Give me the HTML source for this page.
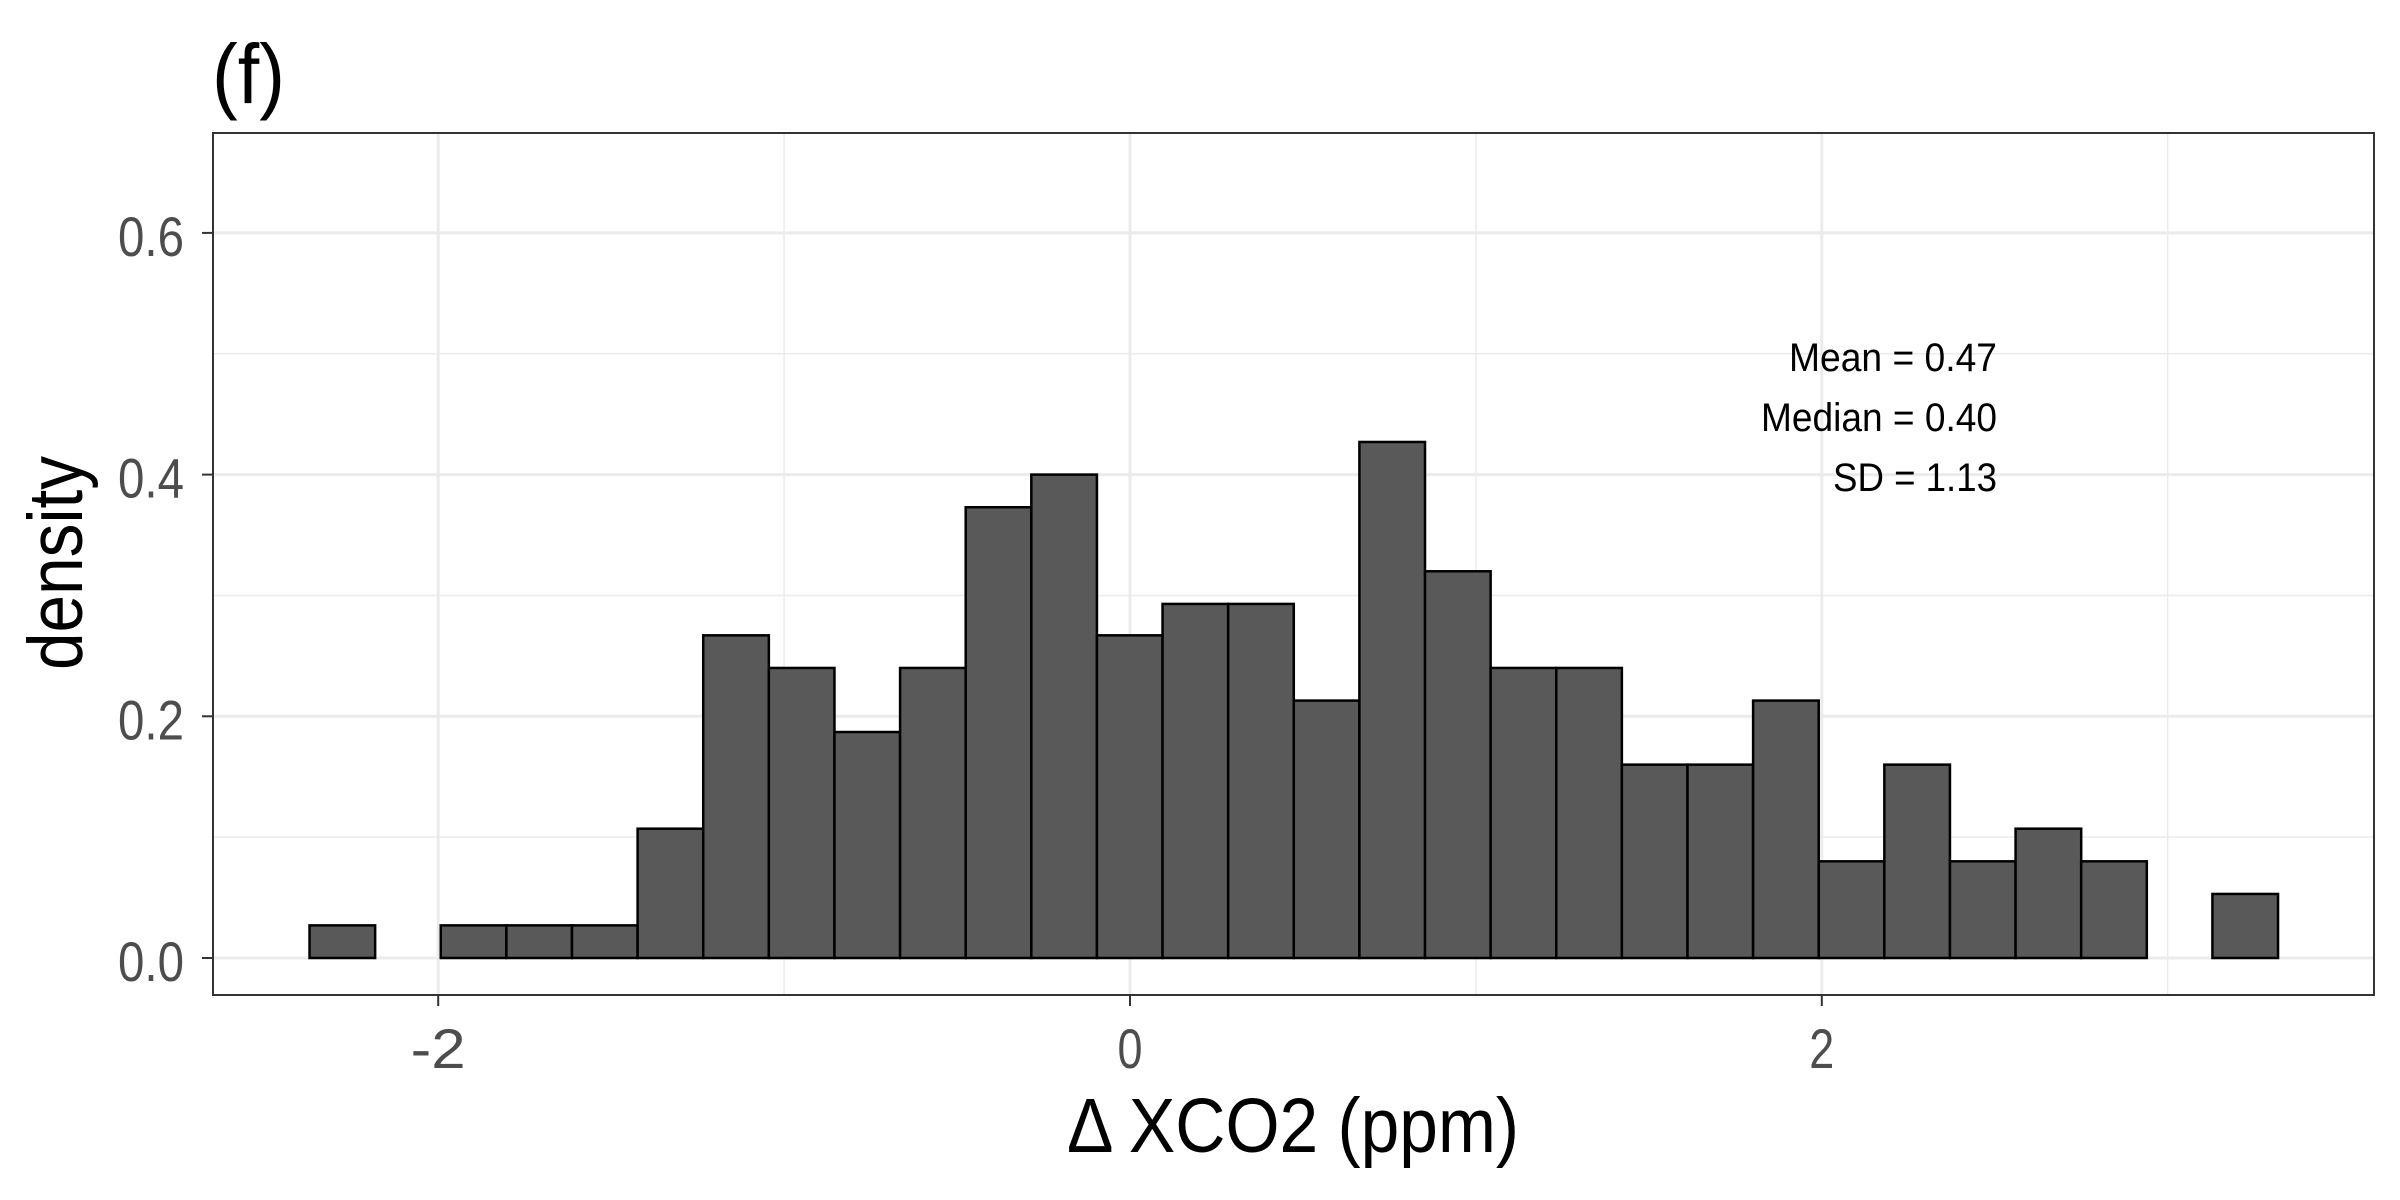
<!DOCTYPE html>
<html><head><meta charset="utf-8"><style>
html,body{margin:0;padding:0;background:#fff}
svg{display:block}
text{font-family:"Liberation Sans Narrow","Liberation Sans",sans-serif}
</style></head><body>
<svg id="chart" width="2400" height="1200" viewBox="0 0 2400 1200" xmlns="http://www.w3.org/2000/svg">
<text x="212" y="103" font-size="84" textLength="73" lengthAdjust="spacingAndGlyphs" fill="#000">(f)</text>
<rect x="213" y="133" width="2161" height="862" fill="#fff"/>
<g id="grid"></g>
<g id="bars"></g>
<rect x="213" y="133" width="2161" height="862" fill="none" stroke="#333" stroke-width="2"/>
<g id="axes"></g>
<text x="1293" y="1152" font-size="77" text-anchor="middle" textLength="452" lengthAdjust="spacingAndGlyphs" fill="#000">Δ XCO2 (ppm)</text>
<text transform="translate(82,563) rotate(-90)" font-size="77" text-anchor="middle" textLength="214" lengthAdjust="spacingAndGlyphs" fill="#000">density</text>
<g font-size="40" text-anchor="end" fill="#000">
<text x="1997" y="371" textLength="208" lengthAdjust="spacingAndGlyphs">Mean = 0.47</text>
<text x="1997" y="431" textLength="236" lengthAdjust="spacingAndGlyphs">Median = 0.40</text>
<text x="1997" y="491" textLength="164" lengthAdjust="spacingAndGlyphs">SD = 1.13</text>
</g>
</svg>
<script>
const binStart = -2.372;
const binWidth = 0.1897;
const densities = [0.027,0,0.027,0.027,0.027,0.107,0.267,0.24,0.187,0.24,0.373,0.40,0.267,0.293,0.293,0.213,0.427,0.32,0.24,0.24,0.16,0.16,0.213,0.08,0.16,0.08,0.107,0.08,0,0.053];
const xTicks = [-2,0,2];
const xTickLabels = ["-2","0","2"];
const xMinor = [-1,1,3];
const yTicks = [0,0.2,0.4,0.6];
const yTickLabels = ["0.0","0.2","0.4","0.6"];
const yMinor = [0.1,0.3,0.5];

const NS="http://www.w3.org/2000/svg";
const X = v => 1130 + v*345.9;
const Y = v => 958 - v*1208.5;
const L=213,R=2374,T=133,B=995;
function mk(tag,attrs,parent){const e=document.createElementNS(NS,tag);for(const k in attrs)e.setAttribute(k,attrs[k]);parent.appendChild(e);return e;}
const grid=document.getElementById('grid'),bars=document.getElementById('bars'),axes=document.getElementById('axes');
yMinor.forEach(v=>{const l=mk('line',{x1:L,x2:R,y1:Y(v),y2:Y(v),stroke:'#ebebeb','stroke-width':1.5},grid);

});
xMinor.forEach(v=>{const l=mk('line',{x1:X(v),x2:X(v),y1:T,y2:B,stroke:'#ebebeb','stroke-width':1.5},grid);

});
yTicks.forEach((v,i)=>{const l=mk('line',{x1:L,x2:R,y1:Y(v),y2:Y(v),stroke:'#ebebeb','stroke-width':3},grid);


const t=mk('line',{x1:L-11,x2:L,y1:Y(v),y2:Y(v),stroke:'#333','stroke-width':2},axes);


const tx=mk('text',{x:L-29,y:Y(v)+23,'font-size':56,'text-anchor':'end',textLength:66,lengthAdjust:'spacingAndGlyphs',fill:'#4d4d4d'},axes);
tx.textContent=yTickLabels[i];

});
xTicks.forEach((v,i)=>{const l=mk('line',{x1:X(v),x2:X(v),y1:T,y2:B,stroke:'#ebebeb','stroke-width':3},grid);


const t=mk('line',{x1:X(v),x2:X(v),y1:B,y2:B+11,stroke:'#333','stroke-width':2},axes);


const tx=mk('text',{x:X(v),y:1068,'font-size':56,'text-anchor':'middle',textLength:xTickLabels[i].length>1?55:25,lengthAdjust:'spacingAndGlyphs',fill:'#4d4d4d'},axes);
tx.textContent=xTickLabels[i];

});
densities.forEach((d,i)=>{const x0=X(binStart+i*binWidth),x1=X(binStart+(i+1)*binWidth);
const r=mk('rect',{x:x0,y:Y(d),width:x1-x0,height:Y(0)-Y(d),fill:'#595959',stroke:'#000','stroke-width':2.5},bars);

});
</script>
</body></html>
